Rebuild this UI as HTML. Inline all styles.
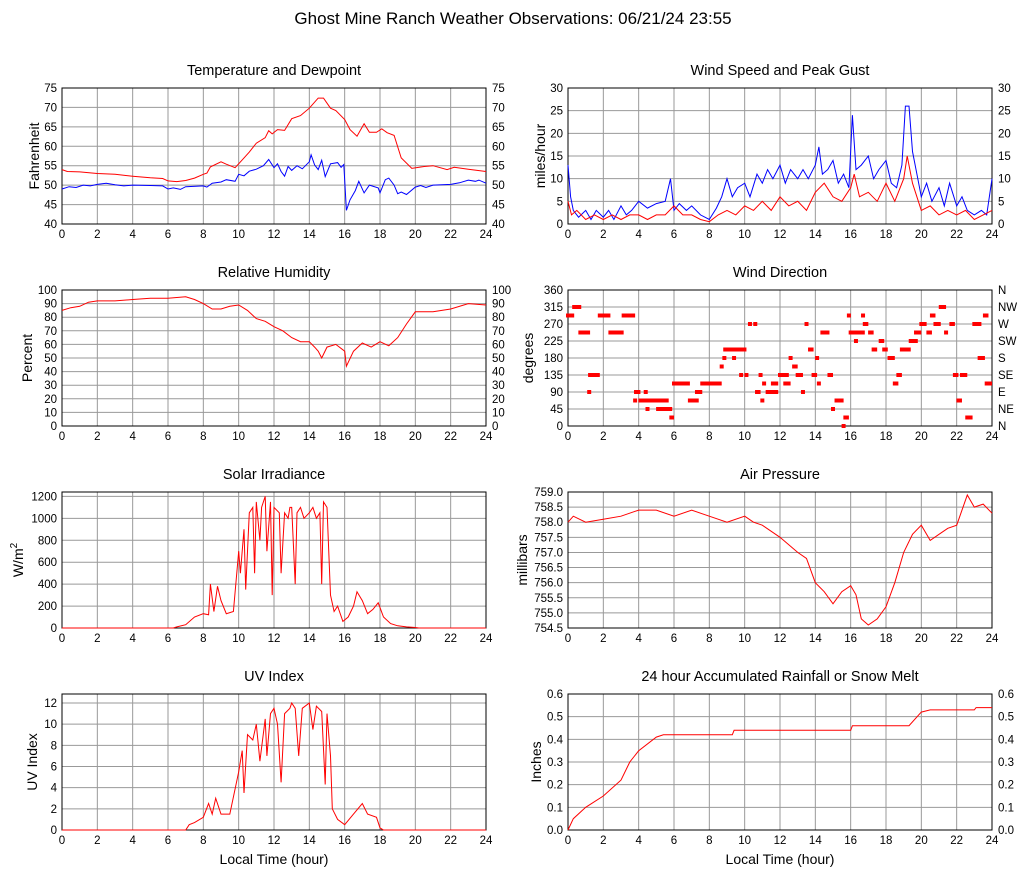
<!DOCTYPE html>
<html><head><meta charset="utf-8"><style>
body{margin:0;background:#fff;}
svg{display:block;font-family:"Liberation Sans",sans-serif;}
</style></head><body>
<svg id="c" width="1027" height="878">
<text x="513" y="24" text-anchor="middle" font-size="17">Ghost Mine Ranch Weather Observations: 06/21/24 23:55</text>
</svg>
<script>
// ---- data ----
const tempT=[0,0.3,1,2,3,4,5,5.7,6,6.5,7,7.5,8,8.2,8.4,9,9.3,9.8,10.2,10.6,11,11.5,11.7,11.9,12.2,12.6,13,13.5,14,14.5,14.8,15.2,15.5,16,16.3,16.7,17.1,17.4,17.8,18.1,18.4,18.8,19.2,19.8,20.5,21,21.8,22.2,23,24];
const tempV=[54,53.5,53.4,53,52.8,52.3,51.9,51.7,51.1,50.9,51.2,51.8,52.8,53.1,54.7,56,55.4,54.5,56.5,58.5,60.8,62.2,64,63.2,64.3,64.1,67.1,67.9,69.8,72.4,72.4,69.8,69.2,66.9,64.3,62.6,65.8,63.6,63.6,64.5,63.5,62.8,57,54.3,54.8,55,54,54.6,54.1,53.5];
const dewT=[0,0.4,0.8,1.2,1.6,2,2.5,3,3.5,4,5,5.7,6,6.3,6.7,7,8,8.2,8.5,9,9.3,9.8,10,10.3,10.6,11,11.4,11.7,12,12.2,12.4,12.6,12.8,13,13.3,13.6,14,14.1,14.3,14.5,14.7,14.9,15.2,15.6,15.8,15.95,16.1,16.3,16.6,16.8,17.1,17.4,17.9,18,18.3,18.5,18.8,19,19.2,19.5,20,20.3,20.6,21,21.5,22,22.5,23,23.4,23.6,24];
const dewV=[49,49.6,49.4,50,49.8,50.2,50.5,50.1,49.8,50,49.9,49.8,49,49.3,48.9,49.6,49.8,49.5,50.5,50.8,51.4,51,52.8,52.4,53.6,54.1,55,56.6,54.5,55.5,53.5,52.3,54.8,53.8,55,54.2,56,57.8,55.2,54,56.4,52.2,55.5,55.8,54.6,55.3,43.5,46.2,48.6,51,48,50,49.3,48,51.4,51.8,50,47.8,48.2,47.6,49.5,49.9,49.4,50,50.1,50.2,50.6,51.3,51,51.3,50.5];
const gustT=[0,0.15,0.3,0.6,1,1.3,1.6,2,2.3,2.6,3,3.3,3.6,4,4.5,5,5.5,5.8,6,6.3,6.7,7,7.5,8,8.4,8.7,9,9.3,9.6,10,10.3,10.7,11,11.3,11.6,12,12.3,12.6,13,13.3,13.6,14,14.2,14.4,14.7,15,15.3,15.6,15.9,16.1,16.3,16.6,17,17.3,17.6,18,18.3,18.6,18.9,19.1,19.3,19.5,19.8,20,20.3,20.6,21,21.3,21.6,22,22.3,22.6,23,23.4,23.7,24];
const gustV=[13,6,3,1.5,3,1,3,1.5,3,1,4,2,3,5,3.5,4.5,5,10,3,4.5,3,4,2,1,3.5,6,10,6,8,9,6,11,9,12,10,13,9,12,10,12,10,13,17,11,12,14,9,11,8,24,12,13,15,10,12,14,9,8,13,26,26,16,10,6,9,5,8,4,9,4,6,3,2,3,2,10];
const spdT=[0,0.2,0.5,1,1.5,2,2.5,3,3.5,4,4.5,5,5.5,6,6.5,7,7.5,8,8.5,9,9.5,10,10.5,11,11.5,12,12.5,13,13.5,14,14.5,15,15.5,16,16.2,16.5,17,17.5,18,18.5,19,19.2,19.5,20,20.5,21,21.5,22,22.5,23,23.5,24];
const spdV=[5,2,3,1,2,1,2,1,2,2,1,2,2,4,2,2,1,0.5,2,3,2,4,3,5,3,6,4,5,3,7,9,6,5,8,11,6,7,5,9,5,10,15,9,3,4,2,3,2,3,1,2,3];
const rhT=[0,0.5,1,1.5,2,3,4,5,6,7,7.5,8,8.5,9,9.5,10,10.5,11,11.5,12,12.5,13,13.5,14,14.3,14.5,14.7,15,15.5,16,16.1,16.5,17,17.5,18,18.5,19,19.5,20,21,22,23,24];
const rhV=[85,87,88,91,92,92,93,94,94,95,93,90,86,86,88,89,85,79,77,73,70,65,62,62,58,55,50,58,60,55,44,55,61,58,62,59,65,75,84,84,86,90,89];
const dirStart=[0,0.35,0.7,1.2,1.25,1.8,2.4,3.15,3.8,3.85,4.1,4.4,4.5,4.9,5.1,5.4,5.6,5.85,6,6.9,7.3,7.6,8.7,8.85,8.9,9.4,9.5,9.8,9.9,10.1,10.3,10.6,10.7,10.9,11,11.1,11.3,11.6,12,12.3,12.6,12.8,13,13.3,13.5,13.7,13.9,14.1,14.2,14.4,14.8,15,15.2,15.6,15.7,15.9,16,16.3,16.7,16.8,17.1,17.3,17.7,17.9,18.2,18.5,18.7,18.9,19.4,19.7,20,20.4,20.6,20.8,21.1,21.4,21.7,21.9,22.1,22.3,22.6,23,23.3,23.6,23.7];
const dirEnd=[0.35,0.75,1.25,1.2,1.8,2.4,3.15,3.8,3.85,4.1,5.3,4.5,4.6,5.1,5.5,5.7,5.9,6,6.9,7.4,7.6,8.7,8.75,8.9,9.4,9.5,9.8,9.85,10.1,10.2,10.35,10.7,10.9,11,11.05,11.2,11.9,11.9,12.5,12.6,12.7,13,13.3,13.4,13.6,13.9,14.1,14.15,14.3,14.8,15,15.1,15.6,15.7,15.9,16,16.8,16.4,16.8,17,17.3,17.5,17.9,18.1,18.5,18.7,18.9,19.4,19.8,20,20.3,20.6,20.8,21.1,21.4,21.5,21.9,22.1,22.3,22.6,22.9,23.4,23.6,23.8,24];
const dirDeg=[292.5,315,247.5,90,135,292.5,247.5,292.5,67.5,90,67.5,90,45,67.5,45,67.5,45,22.5,112.5,67.5,90,112.5,157.5,180,202.5,180,202.5,135,202.5,135,270,270,90,135,67.5,112.5,90,112.5,135,112.5,180,157.5,135,90,270,202.5,135,180,112.5,247.5,135,45,67.5,0,22.5,292.5,247.5,225,292.5,270,247.5,202.5,225,202.5,180,112.5,135,202.5,225,247.5,270,247.5,292.5,270,315,247.5,270,135,67.5,135,22.5,270,180,292.5,112.5];
const solT=[0,6.3,6.5,7,7.5,8,8.3,8.4,8.6,8.8,9,9.3,9.7,10,10.1,10.3,10.4,10.6,10.8,10.9,11,11.2,11.3,11.5,11.6,11.8,11.9,12,12.3,12.4,12.6,12.8,12.9,13,13.2,13.3,13.5,13.7,14,14.2,14.4,14.6,14.7,14.8,15,15.2,15.4,15.6,15.9,16.2,16.5,16.7,17,17.3,17.6,17.9,18.2,18.6,19,19.5,20,20.2,24];
const solV=[0,0,10,30,100,130,120,400,150,380,250,130,150,700,500,900,350,1050,1100,500,1150,800,1100,1200,700,1150,300,1100,1050,500,1050,1000,1100,1100,400,1050,1100,1000,1050,1100,1000,1050,400,1150,1100,300,150,200,60,100,200,330,250,130,170,230,100,40,20,10,5,0,0];
const presT=[0,0.3,1,2,3,4,5,6,7,8,9,10,10.5,11,12,13,13.5,14,14.5,15,15.5,16,16.3,16.6,17,17.5,18,18.5,19,19.5,20,20.5,21,21.5,22,22.3,22.6,23,23.5,24];
const presV=[758.0,758.2,758.0,758.1,758.2,758.4,758.4,758.2,758.4,758.2,758.0,758.2,758.0,757.9,757.5,757.0,756.8,756.0,755.7,755.3,755.7,755.9,755.6,754.8,754.6,754.8,755.2,756.0,757.0,757.6,757.9,757.4,757.6,757.8,757.9,758.4,758.9,758.5,758.6,758.3];
const uvT=[0,7,7.2,7.5,8,8.3,8.5,8.7,9,9.5,10,10.2,10.3,10.5,10.8,11,11.2,11.5,11.6,11.8,12,12.2,12.4,12.6,12.9,13,13.2,13.4,13.6,14,14.2,14.4,14.7,14.9,15,15.2,15.3,15.6,16,16.5,17,17.3,17.8,18,18.2,24];
const uvV=[0,0,0.5,0.7,1.2,2.5,1.5,3,1.5,1.5,5.5,7.5,3.5,9,8.5,10,6.5,10.5,7,11,11.5,10,4.5,11,11.5,12,11.5,7,11.5,12,9.5,11.7,11.2,4.3,11,7,2,1,0.5,1.5,2.5,1.5,1.2,0.2,0,0];
const rainT=[0,0.3,1,2,3,3.5,4,5,5.4,9.3,9.4,16,16.1,19.3,20,20.5,23,23.1,24];
const rainV=[0,0.05,0.1,0.15,0.22,0.3,0.35,0.41,0.42,0.42,0.44,0.44,0.46,0.46,0.52,0.53,0.53,0.54,0.54];
const xTicks=[0,2,4,6,8,10,12,14,16,18,20,22,24];
const compass=["N","NE","E","SE","S","SW","W","NW","N"];

// ---- rendering ----
const svg=document.getElementById('c');
const NS='http://www.w3.org/2000/svg';
function el(tag,attrs,parent){const e=document.createElementNS(NS,tag);for(const k in attrs)e.setAttribute(k,attrs[k]);(parent||svg).appendChild(e);return e;}
function panel(o){
  const g=el('g',{});
  
  
  const x0=o.x,x1=o.x+424,y0=o.y,y1=o.y+136;
  const sx=h=>x0+h/24*(x1-x0);
  const sy=v=>y1-(v-o.min)/(o.max-o.min)*(y1-y0);
  const t=el('text',{x:(x0+x1)/2,y:y0-13,'text-anchor':'middle','font-size':14.5},g);t.textContent=o.title;
  
  for(const h of xTicks){el('line',{x1:sx(h),x2:sx(h),y1:y0,y2:y1,stroke:'#999','stroke-width':1},g);
    const lt=el('text',{x:sx(h),y:y1+14,'text-anchor':'middle','font-size':11.5},g);lt.textContent=h;}
  o.ticks.forEach((v,i)=>{const y=sy(v);el('line',{x1:x0,x2:x1,y1:y,y2:y,stroke:'#999','stroke-width':1},g);
    const lt=el('text',{x:x0-5,y:y+4,'text-anchor':'end','font-size':11.5},g);lt.textContent=o.fmt?o.fmt(v):v;
    if(o.right){const rt=el('text',{x:x1+6,y:y+4,'font-size':11.5},g);rt.textContent=o.right==='c'?compass[i]:(o.fmt?o.fmt(v):v);}
  });
  el('rect',{x:x0,y:y0,width:x1-x0,height:y1-y0,fill:'none',stroke:'#000','stroke-width':1},g);
  const yt=el('text',{transform:`translate(${o.x-(o.ylOff||30)},${(y0+y1)/2}) rotate(-90)`,'text-anchor':'middle','font-size':14},g);
  
  if(o.ylabelHtml)yt.innerHTML=o.ylabelHtml;else yt.textContent=o.ylabel;
  (o.series||[]).forEach(s=>{
    const p=el('polyline',{points:s.t.map((h,i)=>sx(h).toFixed(1)+','+sy(s.v[i]).toFixed(1)).join(' '),fill:'none',stroke:s.c,'stroke-width':1},g);
    
  });
  if(o.runs){for(let i=0;i<dirStart.length;i++){
    const r=el('rect',{x:sx(dirStart[i])-2,y:sy(dirDeg[i])-2,width:Math.max(4,sx(dirEnd[i])-sx(dirStart[i])+2),height:4,fill:'#f00'},g);
    }}
  if(o.xlabel){const xl=el('text',{x:(x0+x1)/2,y:y1+34,'text-anchor':'middle','font-size':14},g);xl.textContent='Local Time (hour)';
    }
}
const rng=(a,b,s)=>{const r=[];for(let v=a;v<=b+1e-9;v+=s)r.push(+v.toFixed(3));return r;};
const L=62,R=568;
panel({name:'temperature-panel',title:'Temperature and Dewpoint',x:L,y:88,min:40,max:75,ticks:rng(40,75,5),right:true,ylabel:'Fahrenheit',ylOff:23,series:[{t:tempT,v:tempV,c:'#f00',n:'temperature-line'},{t:dewT,v:dewV,c:'#00f',n:'dewpoint-line'}]});
panel({name:'wind-speed-panel',title:'Wind Speed and Peak Gust',x:R,y:88,min:0,max:30,ticks:rng(0,30,5),right:true,ylabel:'miles/hour',ylOff:23,series:[{t:gustT,v:gustV,c:'#00f',n:'gust-line'},{t:spdT,v:spdV,c:'#f00',n:'speed-line'}]});
panel({name:'humidity-panel',title:'Relative Humidity',x:L,y:290,min:0,max:100,ticks:rng(0,100,10),right:true,ylabel:'Percent',ylOff:30,series:[{t:rhT,v:rhV,c:'#f00',n:'humidity-line'}]});
panel({name:'wind-direction-panel',title:'Wind Direction',x:R,y:290,min:0,max:360,ticks:rng(0,360,45),right:'c',ylabel:'degrees',ylOff:35,runs:true});
panel({name:'solar-panel',title:'Solar Irradiance',x:L,y:492,min:0,max:1240,ticks:rng(0,1200,200),ylabel:'',ylOff:39,ylabelHtml:'W/m<tspan dy="-6" font-size="10">2</tspan>',series:[{t:solT,v:solV,c:'#f00',n:'solar-line'}]});
panel({name:'pressure-panel',title:'Air Pressure',x:R,y:492,min:754.5,max:759,ticks:rng(754.5,759,0.5),fmt:v=>v.toFixed(1),ylabel:'millibars',ylOff:41,series:[{t:presT,v:presV,c:'#f00',n:'pressure-line'}]});
panel({name:'uv-panel',title:'UV Index',x:L,y:694,min:0,max:12.85,ticks:rng(0,12,2),ylabel:'UV Index',ylOff:25,series:[{t:uvT,v:uvV,c:'#f00',n:'uv-line'}],xlabel:true});
panel({name:'rain-panel',title:'24 hour Accumulated Rainfall or Snow Melt',x:R,y:694,min:0,max:0.6,ticks:rng(0,0.6,0.1),fmt:v=>v.toFixed(1),right:true,ylabel:'Inches',ylOff:27,series:[{t:rainT,v:rainV,c:'#f00',n:'rain-line'}],xlabel:true});
</script>
</body></html>
